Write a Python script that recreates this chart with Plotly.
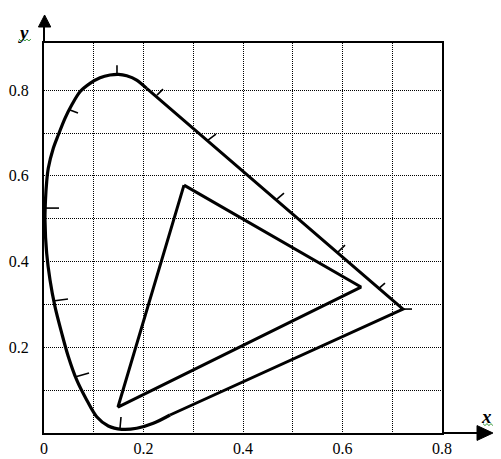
import plotly.graph_objects as go

# ---- data ----
# curved part of the spectral locus (from the blue end round to the green part)
curve_x = [0.2533, 0.2197, 0.1863, 0.1562, 0.1292, 0.1059, 0.0858, 0.0657, 0.0488,
           0.0356, 0.0221, 0.0121, 0.0054, 0.0020, 0.0030, 0.0054, 0.0086, 0.0187,
           0.0287, 0.0422, 0.0557, 0.0724, 0.0925, 0.1126, 0.1327, 0.1493, 0.1662,
           0.1863, 0.2064]
curve_y = [0.0420, 0.0226, 0.0110, 0.0086, 0.0163, 0.0380, 0.0770, 0.1237, 0.1785,
           0.2331, 0.2947, 0.3570, 0.4193, 0.4970, 0.5436, 0.5863, 0.6176, 0.6643,
           0.6953, 0.7343, 0.7653, 0.7963, 0.8159, 0.8290, 0.8353, 0.8369, 0.8337,
           0.8236, 0.8042]
# straight parts: green-red edge and the purple line
straight_x = [0.2064, 0.7216, 0.2533]
straight_y = [0.8042, 0.2892, 0.0420]

# wavelength marks on the locus (segment start / end)
mark_x0 = [0.1467, 0.0523, 0.0020, 0.0181, 0.0623, 0.1528, 0.2271, 0.3296, 0.4683, 0.5910, 0.6714, 0.7216]
mark_y0 = [0.8373, 0.7534, 0.5248, 0.3079, 0.1306, 0.0117, 0.7883, 0.6834, 0.5458, 0.4222, 0.3359, 0.2892]
mark_x1 = [0.1467, 0.0683, 0.0302, 0.0482, 0.0905, 0.1548, 0.2392, 0.3457, 0.4824, 0.6050, 0.6854, 0.7397]
mark_y1 = [0.8583, 0.7464, 0.5248, 0.3125, 0.1399, 0.0373, 0.8023, 0.6974, 0.5598, 0.4385, 0.3499, 0.2892]

# colour gamut triangle
tri_x = [0.2814, 0.6372, 0.1487, 0.2814]
tri_y = [0.5784, 0.3405, 0.0606, 0.5784]

# axis ticks
x_tickvals = [0, 0.1, 0.2, 0.3, 0.4, 0.5, 0.6, 0.7, 0.8]
x_ticktext = ["0", "", "0.2", "", "0.4", "", "0.6", "", "0.8"]
y_tickvals = [0.1, 0.2, 0.3, 0.4, 0.5, 0.6, 0.7, 0.8]
y_ticktext = ["", "0.2", "", "0.4", "", "0.6", "", "0.8"]

FONT = "Liberation Serif, Times New Roman, serif"

fig = go.Figure()
fig.add_trace(go.Scatter(x=curve_x, y=curve_y, mode="lines",
                         line=dict(color="black", width=3.2, shape="spline", smoothing=0.9),
                         hoverinfo="skip"))
fig.add_trace(go.Scatter(x=straight_x, y=straight_y, mode="lines",
                         line=dict(color="black", width=3), hoverinfo="skip"))
fig.add_trace(go.Scatter(x=tri_x, y=tri_y, mode="lines",
                         line=dict(color="black", width=3), hoverinfo="skip"))
mx, my = [], []
for a, b, c, d in zip(mark_x0, mark_y0, mark_x1, mark_y1):
    mx += [a, c, None]
    my += [b, d, None]
fig.add_trace(go.Scatter(x=mx, y=my, mode="lines",
                         line=dict(color="black", width=1.6), hoverinfo="skip"))

shapes = [
    # y axis extension and arrow
    dict(type="line", xref="paper", yref="paper", x0=0, y0=1.0, x1=0, y1=1.045,
         line=dict(color="black", width=2)),
    dict(type="path", xref="paper", yref="paper",
         path="M -0.0140 1.041 L 0.0015 1.0718 L 0.0170 1.041 Z",
         fillcolor="black", line=dict(color="black", width=1)),
    # x axis extension and arrow
    dict(type="line", xref="paper", yref="paper", x0=1.0, y0=0, x1=1.09, y1=0,
         line=dict(color="black", width=2)),
    dict(type="path", xref="paper", yref="paper",
         path="M 1.088 0.019 L 1.128 0 L 1.088 -0.019 Z",
         fillcolor="black", line=dict(color="black", width=1)),
    # green squiggles
    dict(type="path", xref="paper", yref="paper",
         path="M -0.063 1.0103 L -0.058 1.0051 L -0.053 1.0103 L -0.048 1.0051 L -0.043 1.0103 L -0.038 1.0051 L -0.033 1.0103",
         line=dict(color="#3a9a3a", width=1)),
    dict(type="path", xref="paper", yref="paper",
         path="M 1.103 0.024 L 1.108 0.019 L 1.113 0.024 L 1.118 0.019 L 1.123 0.024 L 1.128 0.019",
         line=dict(color="#3a9a3a", width=1)),
]

annotations = [
    dict(text="<b><i>y</i></b>", xref="paper", yref="paper", x=-0.0503, y=1.028,
         xanchor="center", yanchor="middle",
         showarrow=False, font=dict(family=FONT, size=19, color="black")),
    dict(text="<b><i>x</i></b>", xref="paper", yref="paper", x=1.113, y=0.043,
         xanchor="center", yanchor="middle",
         showarrow=False, font=dict(family=FONT, size=19, color="black")),
]

# the page body has an 8px margin, so the figure is drawn 8px smaller
fig.update_layout(
    width=493, height=451,
    margin=dict(l=36, r=59, t=35, b=26, pad=0, autoexpand=False),
    paper_bgcolor="white", plot_bgcolor="white",
    showlegend=False,
    shapes=shapes, annotations=annotations,
    font=dict(family=FONT, size=16, color="black"),
)
fig.update_xaxes(range=[0, 0.8], tickvals=x_tickvals, ticktext=x_ticktext, automargin=False,
                 showgrid=True, gridcolor="black", gridwidth=1, griddash="1px,1px",
                 zeroline=False, showline=True, linecolor="black", linewidth=2, mirror=True,
                 ticks="", ticklabelstandoff=0,
                 tickfont=dict(family=FONT, size=16, color="black"))
fig.update_yaxes(range=[0, 0.91], tickvals=y_tickvals, ticktext=y_ticktext, automargin=False,
                 showgrid=True, gridcolor="black", gridwidth=1, griddash="1px,1px",
                 zeroline=False, showline=True, linecolor="black", linewidth=2, mirror=True,
                 ticks="", ticklabelstandoff=10,
                 tickfont=dict(family=FONT, size=16, color="black"))

fig.write_html("out.html")
